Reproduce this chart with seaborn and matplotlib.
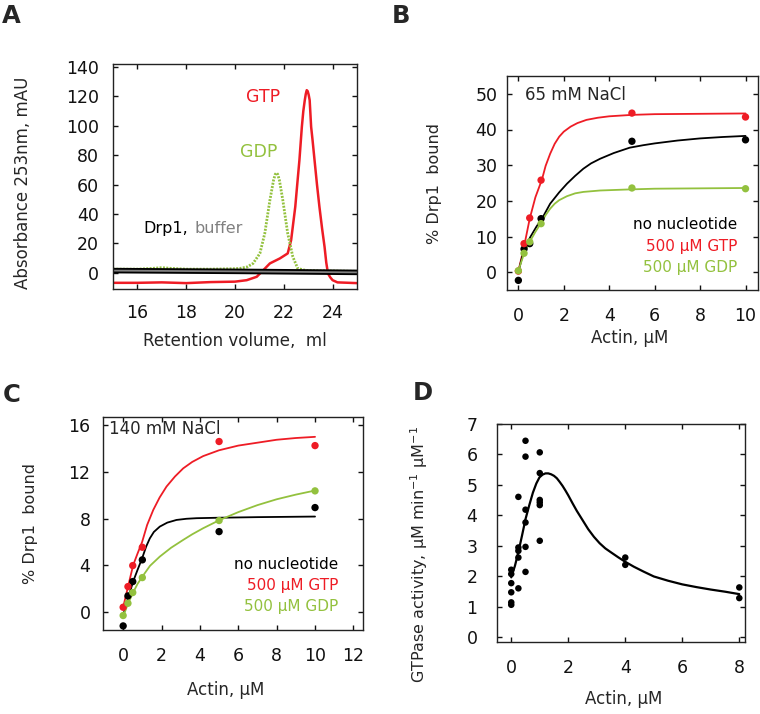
import matplotlib
matplotlib.use("Agg")
import matplotlib.pyplot as plt
import seaborn as sns

# ---------------- data ----------------
# Panel A: chromatograms
gtp_x = [15.0, 16.0, 17.0, 18.0, 19.0, 20.0, 20.48, 20.89, 21.16, 21.43, 21.84, 22.16, 22.30,
         22.47, 22.55, 22.64, 22.74, 22.80, 22.86, 22.90, 22.94, 22.98, 23.02, 23.06, 23.12,
         23.18, 23.26, 23.36, 23.46, 23.57, 23.67, 23.74, 23.81, 23.90, 24.0, 24.2, 25.0]
gtp_y = [-6.8, -6.8, -6.5, -7.0, -6.3, -6.0, -5.0, -2.7, 1.8, 6.4, 9.8, 13.2, 22.2,
         44.9, 60.0, 76.6, 99.3, 110.0, 117.4, 121.5, 124.2, 123.5, 121.0, 117.4, 99.3,
         90.0, 76.6, 60.0, 44.9, 30.0, 17.7, 7.0, -0.4, -3.0, -5.0, -6.5, -7.0]
gdp_x = [15.0, 16.0, 16.6, 17.0, 17.4, 18.0, 19.0, 20.0, 20.2, 20.5, 20.74, 21.02, 21.22,
         21.43, 21.58, 21.65, 21.70, 21.75, 21.82, 21.96, 22.16, 22.37, 22.57, 22.8, 23.0, 25.0]
gdp_y = [2.5, 2.5, 3.0, 3.5, 3.0, 2.5, 2.5, 2.8, 3.0, 4.0, 6.4, 13.2, 26.8,
         49.4, 63.0, 67.0, 68.0, 67.0, 63.0, 49.4, 26.8, 10.9, 3.0, 2.0, 1.5, 1.0]
drp1_x = [15.0, 20.0, 25.0]
drp1_y = [1.5, 1.0, 0.3]
buffer_y = [1.5, 1.0, 0.3]

# Panel B: 65 mM NaCl
b_actin = [0, 0.25, 0.5, 1, 5, 10]
b_none = [-2.3, 6.5, 8.0, 15.0, 36.7, 37.1]
b_gtp = [0.3, 8.0, 15.2, 25.8, 44.6, 43.5]
b_gdp = [0.4, 5.3, 8.5, 13.6, 23.6, 23.4]
b_fit_x_gtp = [0, 0.23, 0.5, 0.75, 1.04, 1.2, 1.4, 1.6, 1.8, 2.0, 2.3, 2.6, 3.0, 3.5, 4.0,
               5.0, 6.0, 8.0, 10.0]
b_fit_gtp = [0.3, 6.5, 15.0, 21.0, 26.0, 29.8, 33.2, 36.0, 38.0, 39.4, 40.8, 41.8, 42.7, 43.3,
             43.7, 44.1, 44.3, 44.4, 44.5]
b_fit_x_none = [0, 0.26, 0.53, 0.8, 1.04, 1.4, 1.8, 2.14, 2.5, 2.86, 3.2, 3.6, 4.2, 4.9, 5.5,
                6.0, 7.0, 8.0, 9.0, 10.0]
b_fit_none = [0.0, 6.6, 9.9, 12.8, 15.0, 19.2, 22.4, 24.8, 27.0, 29.0, 30.5, 31.8, 33.4, 34.9,
              35.6, 36.1, 36.9, 37.5, 37.9, 38.2]
b_fit_x_gdp = [0, 0.26, 0.5, 0.75, 1.04, 1.2, 1.4, 1.6, 1.8, 2.14, 2.5, 2.86, 3.6, 4.9, 6.0,
               8.0, 10.0]
b_fit_gdp = [0.4, 5.4, 8.5, 11.3, 14.2, 16.0, 17.8, 19.2, 20.2, 21.3, 22.1, 22.5, 22.9, 23.2,
             23.4, 23.5, 23.6]

# Panel C: 140 mM NaCl
c_actin = [0, 0.25, 0.5, 1, 5, 10]
c_none = [-1.2, 1.37, 2.6, 4.46, 6.88, 8.94]
c_gtp = [0.4, 2.17, 3.97, 5.54, 14.6, 14.25]
c_gdp = [-0.31, 0.74, 1.66, 2.94, 7.83, 10.37]
c_fit_x_gtp = [0, 0.26, 0.52, 0.75, 0.99, 1.25, 1.57, 1.9, 2.26, 2.7, 3.13, 3.6, 4.17, 5.0,
               6.0, 7.0, 8.0, 9.0, 10.0]
c_fit_gtp = [0.4, 2.2, 4.0, 5.0, 6.0, 7.45, 8.74, 9.8, 10.74, 11.6, 12.3, 12.85, 13.35, 13.85,
             14.25, 14.5, 14.75, 14.9, 15.0]
c_fit_x_none = [0, 0.26, 0.52, 0.75, 0.99, 1.2, 1.39, 1.6, 1.91, 2.3, 2.78, 3.3, 3.83, 5.0,
                7.0, 10.0]
c_fit_none = [-0.3, 1.2, 2.6, 3.6, 4.6, 5.6, 6.3, 6.85, 7.31, 7.65, 7.88, 7.98, 8.03, 8.07,
              8.12, 8.17]
c_fit_x_gdp = [0, 0.26, 0.52, 0.75, 0.99, 1.4, 1.91, 2.5, 3.13, 3.6, 4.17, 5.0, 6.0, 7.0, 8.0,
               9.0, 10.0]
c_fit_gdp = [-0.4, 0.74, 1.66, 2.4, 3.0, 3.95, 4.74, 5.5, 6.17, 6.65, 7.17, 7.85, 8.55, 9.15,
             9.65, 10.05, 10.4]

# Panel D: GTPase activity
d_actin = [0, 0, 0, 0, 0, 0,
           0.25, 0.25, 0.25, 0.25, 0.25,
           0.5, 0.5, 0.5, 0.5, 0.5, 0.5,
           1, 1, 1, 1, 1, 1,
           4, 4, 8, 8]
d_activity = [2.22, 2.08, 1.78, 1.48, 1.15, 1.07,
              4.61, 2.95, 2.84, 2.62, 1.61,
              6.45, 5.93, 4.19, 3.77, 2.97, 2.15,
              6.07, 5.39, 4.51, 4.43, 4.34, 3.17,
              2.62, 2.38, 1.64, 1.29]
d_fit_x = [0, 0.13, 0.26, 0.38, 0.5, 0.63, 0.76, 0.88, 0.99, 1.1, 1.2, 1.3, 1.4, 1.5, 1.6,
           1.7, 1.8, 1.9, 2.0, 2.15, 2.3, 2.5, 2.7, 2.9, 3.1, 3.3, 3.5, 3.75, 4.0, 4.3, 4.64,
           5.0, 5.5, 6.0, 6.5, 7.0, 7.5, 8.0]
d_fit_y = [1.97, 2.35, 2.84, 3.35, 3.88, 4.33, 4.75, 5.05, 5.25, 5.34, 5.38, 5.38, 5.35, 5.3,
           5.22, 5.1, 4.97, 4.82, 4.66, 4.4, 4.15, 3.85, 3.55, 3.3, 3.09, 2.92, 2.79, 2.63,
           2.48, 2.32, 2.16, 2.0, 1.86, 1.74, 1.65, 1.57, 1.5, 1.42]

RED = "#EE1C25"
GREEN = "#93C13E"
GRAY = "#808080"

# ---------------- style ----------------
sns.set_style("ticks")
plt.rcParams["font.family"] = ["DejaVu Sans"]
plt.rcParams["axes.linewidth"] = 1.0
plt.rcParams["axes.edgecolor"] = "#222222"
plt.rcParams["lines.solid_joinstyle"] = "round"

TICK = 12.5
LAB = 12

fig = plt.figure(figsize=(7.6, 7.14), dpi=100)
W, H = 760.0, 714.0


def make_ax(l, r, t, b):
    return fig.add_axes([l / W, 1 - b / H, (r - l) / W, (b - t) / H])


def style(ax, xpad, ypad):
    ax.tick_params(direction="in", top=True, right=True, length=3.5, width=1.0,
                   labelsize=TICK, colors="#111111")
    ax.tick_params(axis="x", pad=xpad)
    ax.tick_params(axis="y", pad=ypad)
    for s in ax.spines.values():
        s.set_visible(True)
        s.set_linewidth(1.0)


# ---------------- Panel A ----------------
axA = make_ax(113, 357, 64, 289)
sns.lineplot(x=gtp_x, y=gtp_y, ax=axA, color=RED, lw=1.8, sort=False, estimator=None)
sns.lineplot(x=gdp_x, y=gdp_y, ax=axA, color=GREEN, lw=2.0, sort=False, estimator=None,
             linestyle=(0, (0.7, 0.5)))
sns.lineplot(x=drp1_x, y=drp1_y, ax=axA, color="black", lw=4.0, sort=False, estimator=None)
sns.lineplot(x=drp1_x, y=buffer_y, ax=axA, color=GRAY, lw=1.3, sort=False, estimator=None)
axA.set_xlim(15, 25)
axA.set_ylim(-11, 142)
axA.set_xticks([16, 18, 20, 22, 24])
axA.set_yticks(range(0, 141, 20))
style(axA, 11, 10)
axA.set_xlabel("Retention volume,  ml", fontsize=LAB)
axA.set_ylabel("Absorbance 253nm, mAU", fontsize=LAB)
axA.xaxis.set_label_coords(0.5, -0.19)
axA.yaxis.set_label_coords(-0.33, 0.47)
axA.text(20.47, 119.6, "GTP", color=RED, fontsize=12.5, va="center", ha="left")
axA.text(20.2, 82.3, "GDP", color=GREEN, fontsize=12.5, va="center", ha="left")
axA.text(16.26, 30, "Drp1,", color="black", fontsize=11.5, va="center", ha="left")
axA.text(18.32, 30, "buffer", color=GRAY, fontsize=11.5, va="center", ha="left")

# ---------------- Panel B ----------------
axB = make_ax(507, 758, 76, 290)
sns.lineplot(x=b_fit_x_gtp, y=b_fit_gtp, ax=axB, color=RED, lw=1.3, sort=False, estimator=None)
sns.lineplot(x=b_fit_x_none, y=b_fit_none, ax=axB, color="black", lw=1.3, sort=False, estimator=None)
sns.lineplot(x=b_fit_x_gdp, y=b_fit_gdp, ax=axB, color=GREEN, lw=1.3, sort=False, estimator=None)
for ys, c in [(b_none, "black"), (b_gtp, RED), (b_gdp, GREEN)]:
    sns.scatterplot(x=b_actin, y=ys, ax=axB, color=c, s=28, edgecolor="none", zorder=3)
axB.set_xlim(-0.5, 10.55)
axB.set_ylim(-5, 55)
axB.set_xticks(range(0, 11, 2))
axB.set_yticks(range(0, 51, 10))
style(axB, 12, 7)
axB.set_xlabel("Actin, µM", fontsize=LAB)
axB.set_ylabel("% Drp1  bound", fontsize=11.5)
axB.xaxis.set_label_coords(0.49, -0.18)
axB.yaxis.set_label_coords(-0.26, 0.5)
axB.text(0.3, 49.7, "65 mM NaCl", fontsize=12, va="center", ha="left")
axB.text(9.65, 13.4, "no nucleotide", fontsize=11, color="black", va="center", ha="right")
axB.text(9.65, 7.2, "500 µM GTP", fontsize=11, color=RED, va="center", ha="right")
axB.text(9.65, 1.4, "500 µM GDP", fontsize=11, color=GREEN, va="center", ha="right")

# ---------------- Panel C ----------------
axC = make_ax(103, 363, 417, 630)
sns.lineplot(x=c_fit_x_gtp, y=c_fit_gtp, ax=axC, color=RED, lw=1.3, sort=False, estimator=None)
sns.lineplot(x=c_fit_x_none, y=c_fit_none, ax=axC, color="black", lw=1.3, sort=False, estimator=None)
sns.lineplot(x=c_fit_x_gdp, y=c_fit_gdp, ax=axC, color=GREEN, lw=1.3, sort=False, estimator=None)
for ys, c in [(c_none, "black"), (c_gtp, RED), (c_gdp, GREEN)]:
    sns.scatterplot(x=c_actin, y=ys, ax=axC, color=c, s=28, edgecolor="none", zorder=3)
axC.set_xlim(-1.05, 12.5)
axC.set_ylim(-1.55, 16.7)
axC.set_xticks(range(0, 13, 2))
axC.set_yticks(range(0, 17, 4))
style(axC, 12, 9)
axC.set_xlabel("Actin, µM", fontsize=LAB)
axC.set_ylabel("% Drp1  bound", fontsize=11.5)
axC.xaxis.set_label_coords(0.47, -0.24)
axC.yaxis.set_label_coords(-0.25, 0.5)
axC.text(-0.75, 15.7, "140 mM NaCl", fontsize=12, va="center", ha="left")
axC.text(11.2, 4.1, "no nucleotide", fontsize=11, color="black", va="center", ha="right")
axC.text(11.2, 2.25, "500 µM GTP", fontsize=11, color=RED, va="center", ha="right")
axC.text(11.2, 0.45, "500 µM GDP", fontsize=11, color=GREEN, va="center", ha="right")

# ---------------- Panel D ----------------
axD = make_ax(497, 745, 424, 642)
sns.lineplot(x=d_fit_x, y=d_fit_y, ax=axD, color="black", lw=1.6, sort=False, estimator=None)
sns.scatterplot(x=d_actin, y=d_activity, ax=axD, color="black", s=22, edgecolor="none", zorder=3)
axD.set_xlim(-0.5, 8.2)
axD.set_ylim(-0.15, 7.0)
axD.set_xticks(range(0, 9, 2))
axD.set_yticks(range(0, 8))
style(axD, 12, 14)
axD.set_xlabel("Actin, µM", fontsize=LAB)
axD.set_ylabel(r"GTPase activity, µM min$^{\mathregular{-1}}$ µM$^{\mathregular{-1}}$", fontsize=11.5)
axD.xaxis.set_label_coords(0.51, -0.22)
axD.yaxis.set_label_coords(-0.27, 0.4)

# ---------------- panel letters ----------------
for lab, (px, py) in {"A": (2, 23), "B": (392, 23), "C": (3, 402), "D": (413, 400)}.items():
    fig.text(px / W, 1 - py / H, lab, fontsize=17.5, fontweight="bold", ha="left", va="baseline")

fig.savefig("out.png", dpi=100)
